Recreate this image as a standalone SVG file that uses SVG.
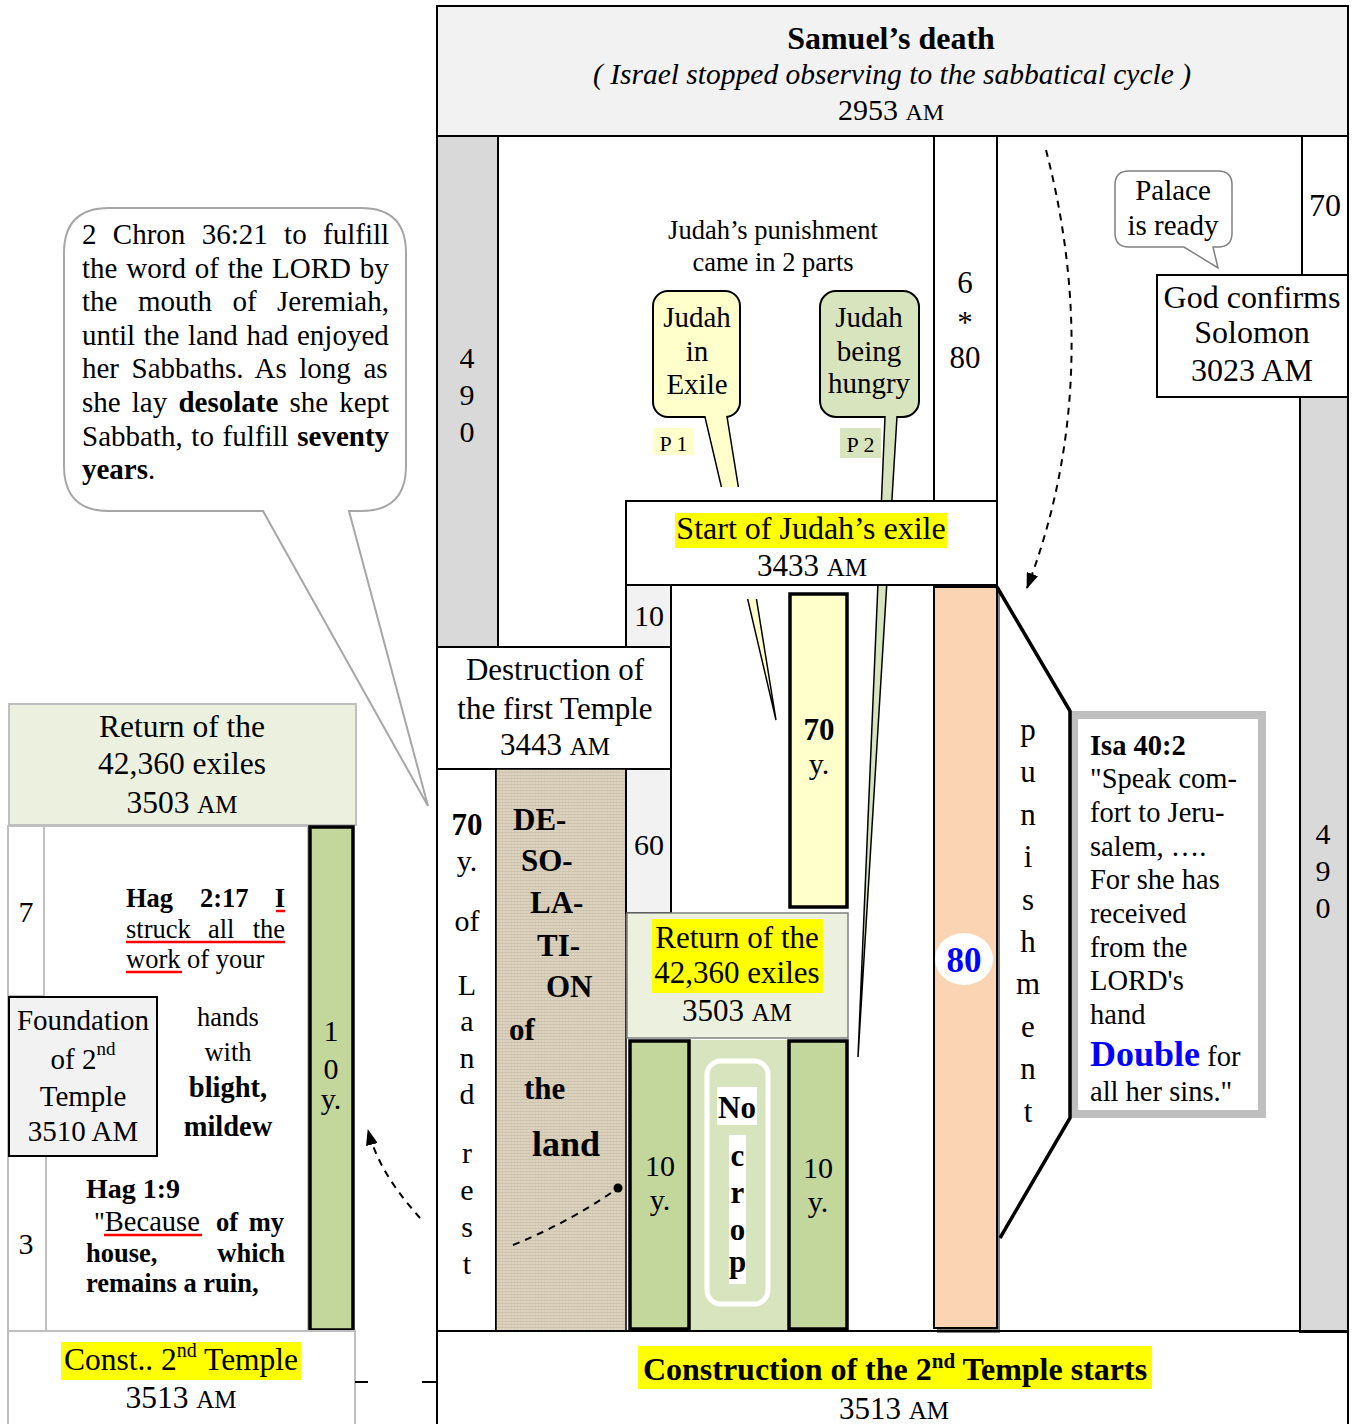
<svg xmlns="http://www.w3.org/2000/svg" width="1353" height="1424" viewBox="0 0 1353 1424">
<defs>
<style>
text{font-family:"Liberation Serif","Times New Roman",serif;fill:#000}
.c{text-anchor:middle}
.e{text-anchor:end}
.b{font-weight:bold}
.k{stroke:#000;stroke-width:2}
.gk{stroke:#bfbfbf;stroke-width:2}
.thick{stroke:#000;stroke-width:3.5}
.dash{fill:none;stroke:#000;stroke-width:2;stroke-dasharray:7,6}
.red{stroke:#ff0000;stroke-width:2.5}
.f30{font-size:30px}
.f31{font-size:31px}
.f29{font-size:29px}
.f26{font-size:26.5px}
.f28{font-size:28.5px}
</style>
<pattern id="burlap" width="6" height="6" patternUnits="userSpaceOnUse">
<rect width="6" height="6" fill="#dcd3c1"/>
<path d="M0,1.5H6M0,4.5H6" stroke="#cdc2ac" stroke-width="1"/>
<path d="M1.5,0V6M4.5,0V6" stroke="#d2c8b3" stroke-width="0.8"/>
</pattern>
<marker id="ah" viewBox="0 0 16 12" refX="15" refY="6" markerWidth="16" markerHeight="12" markerUnits="userSpaceOnUse" orient="auto">
<path d="M0,0 L16,6 L0,12 z" fill="#000"/>
</marker>
<clipPath id="tailclip">
<rect x="0" y="416" width="1353" height="71"/>
<rect x="0" y="599" width="1353" height="825"/>
</clipPath>
<clipPath id="tailclip2">
<rect x="0" y="416" width="1353" height="1008"/>
</clipPath>
</defs>

<rect width="1353" height="1424" fill="#fff"/>

<g id="frame">
<rect x="437" y="6" width="911" height="1430" fill="#fff" class="k"/>
</g>

<g id="header">
<rect x="437" y="6" width="911" height="130" fill="#f2f2f2" class="k"/>
<text x="891" y="49" class="c b" font-size="32">Samuel’s death</text>
<text x="892" y="84" class="c" font-size="29.5" font-style="italic">( Israel stopped observing to the sabbatical cycle )</text>
<text x="891" y="120" class="c f30">2953 <tspan font-size="24">AM</tspan></text>
</g>

<g id="col-490-left">
<rect x="437" y="136" width="61" height="511" fill="#d9d9d9" class="k"/>
<text x="467" y="368" class="c f30">4</text>
<text x="467" y="405" class="c f30">9</text>
<text x="467" y="442" class="c f30">0</text>
</g>

<g id="punishment-note">
<text x="773" y="239" class="c" font-size="26.5">Judah’s punishment</text>
<text x="773" y="271" class="c" font-size="26.5">came in 2 parts</text>
</g>

<g id="col-6x80">
<rect x="934" y="136" width="63" height="365" fill="#fff" class="k"/>
<text x="965" y="293" class="c f31">6</text>
<text x="965" y="333" class="c f31">*</text>
<text x="965" y="368" class="c f31">80</text>
</g>

<g id="col-70-top">
<rect x="1302" y="136" width="46" height="139" fill="#fff" class="k"/>
<text x="1325" y="216" class="c" font-size="32">70</text>
</g>

<g id="callout-exile">
<rect x="653" y="291" width="87" height="126" rx="15" fill="#ffffcc" class="k"/>
<polygon points="701,400 724.3,400 776,720" fill="#ffffcc" stroke="#000" stroke-width="1.5" clip-path="url(#tailclip)"/>
<text x="697" y="327" class="c f29">Judah</text>
<text x="697" y="361" class="c f29">in</text>
<text x="697" y="394" class="c f29">Exile</text>
<rect x="653" y="428" width="41" height="27" fill="#ffffcc"/>
<text x="673.5" y="451" class="c" font-size="22">P 1</text>
</g>

<g id="callout-hungry">
<rect x="820" y="291" width="99" height="126" rx="16" fill="#d7e4bd" class="k"/>
<polygon points="885.7,400 898,400 858,1057" fill="#d7e4bd" stroke="#000" stroke-width="1.5" clip-path="url(#tailclip2)"/>
<text x="869" y="327" class="c f29">Judah</text>
<text x="869" y="361" class="c f29">being</text>
<text x="869" y="393" class="c f29">hungry</text>
<rect x="840" y="428" width="41" height="30" fill="#d7e4bd"/>
<text x="860.5" y="452" class="c" font-size="22">P 2</text>
</g>

<g id="start-exile">
<rect x="626" y="501" width="371" height="84" fill="#fff" class="k"/>
<rect x="675" y="513" width="272" height="35" fill="#ffff00"/>
<text x="811" y="539" class="c" font-size="32">Start of Judah’s exile</text>
<text x="812" y="576" class="c f31">3433 <tspan font-size="25">AM</tspan></text>
</g>

<g id="palace">
<path d="M1129,171 H1218 Q1232,171 1232,185 V233 Q1232,247 1218,247 H1213 L1218,268 L1184,247 H1129 Q1115,247 1115,233 V185 Q1115,171 1129,171 Z" fill="#fff" stroke="#808080" stroke-width="1.5"/>
<text x="1173" y="200" class="c f29">Palace</text>
<text x="1173" y="235" class="c f29">is ready</text>
</g>

<g id="solomon">
<rect x="1157" y="275" width="191" height="122" fill="#fff" class="k"/>
<text x="1252" y="308" class="c" font-size="32">God confirms</text>
<text x="1252" y="343" class="c" font-size="32">Solomon</text>
<text x="1252" y="381" class="c" font-size="32">3023 AM</text>
</g>

<g id="col-490-right">
<rect x="1300" y="397" width="48" height="935" fill="#d9d9d9" class="k"/>
<text x="1323" y="844" class="c f30">4</text>
<text x="1323" y="881" class="c f30">9</text>
<text x="1323" y="918" class="c f30">0</text>
</g>

<g id="cell-10">
<rect x="626" y="585" width="45" height="62" fill="#f2f2f2" class="k"/>
<text x="649" y="626" class="c f30">10</text>
</g>

<g id="destruction">
<rect x="437" y="647" width="234" height="122" fill="#fff" class="k"/>
<text x="555" y="680" class="c f31">Destruction of</text>
<text x="555" y="719" class="c f31">the first Temple</text>
<text x="555" y="755" class="c f31">3443 <tspan font-size="25">AM</tspan></text>
</g>

<g id="land-rest">
<rect x="437" y="769" width="59" height="562" fill="#fff" class="k"/>
<text x="467" y="835" class="c b f31">70</text>
<text x="467" y="871" class="c f30">y.</text>
<text x="467" y="931" class="c f30">of</text>
<text x="467" y="995" class="c f30">L</text>
<text x="467" y="1031" class="c f30">a</text>
<text x="467" y="1068" class="c f30">n</text>
<text x="467" y="1104" class="c f30">d</text>
<text x="467" y="1163" class="c f30">r</text>
<text x="467" y="1200" class="c f30">e</text>
<text x="467" y="1237" class="c f30">s</text>
<text x="467" y="1274" class="c f30">t</text>
</g>

<g id="desolation">
<rect x="496" y="769" width="130" height="562" fill="url(#burlap)" stroke="#000" stroke-width="1.5"/>
<text x="513" y="830" class="b f31">DE-</text>
<text x="521" y="871" class="b f31">SO-</text>
<text x="530" y="913" class="b f31">LA-</text>
<text x="537" y="956" class="b f31">TI-</text>
<text x="546" y="997" class="b f31">ON</text>
<text x="509" y="1040" class="b f31">of</text>
<text x="524" y="1099" class="b f31">the</text>
<text x="532" y="1156" class="b" font-size="36">land</text>
</g>

<g id="cell-60">
<rect x="626" y="769" width="45" height="144" fill="#f2f2f2" class="k"/>
<text x="649" y="855" class="c f30">60</text>
</g>

<g id="col-70-yellow">
<rect x="790" y="594" width="57" height="313" fill="#ffffcc" class="thick"/>
<text x="819" y="740" class="c b f31">70</text>
<text x="819" y="774" class="c f30">y.</text>
</g>

<g id="return-mid">
<rect x="627" y="913" width="221" height="125" fill="#ebf1de" stroke="#808080" stroke-width="1.5"/>
<rect x="652" y="919" width="171" height="74" fill="#ffff00"/>
<text x="737" y="948" class="c f31">Return of the</text>
<text x="737" y="983" class="c f31">42,360 exiles</text>
<text x="737" y="1021" class="c f31">3503 <tspan font-size="25">AM</tspan></text>
</g>

<g id="no-crop">
<rect x="690" y="1040" width="98" height="291" fill="#d7e4bd"/>
<rect x="707" y="1061" width="61" height="243" rx="14" fill="none" stroke="#fff" stroke-width="5"/>
<rect x="717" y="1087" width="40" height="38" fill="#fff"/>
<text x="737" y="1118" class="c b f31">No</text>
<rect x="729" y="1135" width="17" height="149" fill="#fff"/>
<text x="737.5" y="1166" class="c b f31">c</text>
<text x="737.5" y="1203" class="c b f31">r</text>
<text x="737.5" y="1240" class="c b f31">o</text>
<text x="737.5" y="1272" class="c b f31">p</text>
</g>

<g id="col-10-left">
<rect x="630" y="1041" width="59" height="288" fill="#c3d69b" class="thick"/>
<text x="660" y="1176" class="c f30">10</text>
<text x="660" y="1210" class="c f30">y.</text>
</g>

<g id="col-10-right">
<rect x="789" y="1041" width="58" height="288" fill="#c3d69b" class="thick"/>
<text x="818" y="1178" class="c f30">10</text>
<text x="818" y="1212" class="c f30">y.</text>
</g>

<g id="col-80">
<rect x="937" y="590" width="63" height="743" fill="#7f7f7f"/>
<rect x="934" y="587" width="63" height="741" fill="#fbd4b4" class="k"/>
<ellipse cx="964" cy="959" rx="29" ry="26" fill="#fff"/>
<text x="964" y="972" class="c b" font-size="35" style="fill:#0000ff">80</text>
</g>

<g id="isa">
<rect x="1074" y="715" width="188" height="399" fill="#fff" stroke="#bfbfbf" stroke-width="8"/>
<text x="1090" y="755" class="b f28">Isa 40:2</text>
<text x="1090" y="788" class="f28">"Speak com-</text>
<text x="1090" y="822" class="f28">fort to Jeru-</text>
<text x="1090" y="856" class="f28">salem, ….</text>
<text x="1090" y="889" class="f28">For she has</text>
<text x="1090" y="923" class="f28">received</text>
<text x="1090" y="957" class="f28">from the</text>
<text x="1090" y="990" class="f28">LORD's</text>
<text x="1090" y="1024" class="f28">hand</text>
<text x="1090" y="1066" class="f28"><tspan class="b" font-size="36" style="fill:#0000ff">Double</tspan> for</text>
<text x="1090" y="1101" class="f28">all her sins."</text>
</g>

<g id="punishment">
<text x="1028" y="740" class="c f31">p</text>
<text x="1028" y="782" class="c f31">u</text>
<text x="1028" y="825" class="c f31">n</text>
<text x="1028" y="867" class="c f31">i</text>
<text x="1028" y="910" class="c f31">s</text>
<text x="1028" y="952" class="c f31">h</text>
<text x="1028" y="994" class="c f31">m</text>
<text x="1028" y="1037" class="c f31">e</text>
<text x="1028" y="1079" class="c f31">n</text>
<text x="1028" y="1122" class="c f31">t</text>
</g>

<g id="construction">
<line x1="437" y1="1331" x2="1348" y2="1331" class="k"/>
<rect x="638" y="1346" width="514" height="43" fill="#ffff00"/>
<text x="895" y="1380" class="c b" font-size="32">Construction of the 2<tspan font-size="21" dy="-12">nd</tspan><tspan dy="12"> Temple starts</tspan></text>
<text x="894" y="1419" class="c f31">3513 <tspan font-size="25">AM</tspan></text>
</g>

<g id="chron-callout">
<path d="M109,208 H361 Q406,208 406,253 V466 Q406,511 361,511 H349 L428,806 L263,511 H109 Q64,511 64,466 V253 Q64,208 109,208 Z" fill="#fff" stroke="#a6a6a6" stroke-width="2"/>
<text x="82" y="244" class="f29" word-spacing="9.1">2 Chron 36:21 to fulfill</text>
<text x="82" y="278" class="f29" word-spacing="1.6">the word of the LORD by</text>
<text x="82" y="311" class="f29" word-spacing="13.2">the mouth of Jeremiah,</text>
<text x="82" y="345" class="f29" word-spacing="1.4">until the land had enjoyed</text>
<text x="82" y="378" class="f29" word-spacing="5.3">her Sabbaths. As long as</text>
<text x="82" y="412" class="f29" word-spacing="3.9">she lay <tspan class="b">desolate</tspan> she kept</text>
<text x="82" y="446" class="f29" word-spacing="1.4">Sabbath, to fulfill <tspan class="b">seventy</tspan></text>
<text x="82" y="479" class="f29"><tspan class="b">years</tspan>.</text>
</g>

<g id="return-left">
<rect x="9" y="704" width="347" height="121" fill="#ebf1de" class="gk"/>
<text x="182" y="737" class="c" font-size="31.5">Return of the</text>
<text x="182" y="774" class="c" font-size="31.5">42,360 exiles</text>
<text x="182" y="813" class="c" font-size="31.5">3503 <tspan font-size="25">AM</tspan></text>
</g>

<g id="haggai-panel">
<rect x="8" y="826" width="300" height="505" fill="#fff" class="gk"/>
<rect x="8" y="826" width="36" height="170" fill="#fff" class="gk"/>
<text x="26" y="922" class="c f30">7</text>
<rect x="8" y="1156" width="38" height="175" fill="#fff" class="gk"/>
<text x="26" y="1254" class="c f30">3</text>
<text x="126" y="907" class="b f26">Hag</text>
<text x="200" y="907" class="b f26">2:17</text>
<text x="285" y="907" class="e b f26">I</text>
<text x="126" y="938" class="f26">struck</text>
<text x="208" y="938" class="f26">all</text>
<text x="285" y="938" class="e f26">the</text>
<text x="126" y="968" class="f26">work of your</text>
<line x1="276" y1="911" x2="285" y2="911" class="red"/>
<line x1="126" y1="942" x2="285" y2="942" class="red"/>
<line x1="126" y1="972" x2="182" y2="972" class="red"/>
<text x="228" y="1026" class="c f26">hands</text>
<text x="228" y="1061" class="c f26">with</text>
<text x="228" y="1097" class="c b f28">blight,</text>
<text x="228" y="1136" class="c b f28">mildew</text>
<text x="86" y="1198" class="b" font-size="28">Hag 1:9</text>
<text x="94" y="1231" class="f26">"<tspan font-size="28.5">Because</tspan></text>
<text x="216" y="1231" class="b f26">of</text>
<text x="284" y="1231" class="e b f26">my</text>
<line x1="104" y1="1235" x2="202" y2="1235" class="red"/>
<text x="86" y="1262" class="b f26">house,</text>
<text x="285" y="1262" class="e b f26">which</text>
<text x="86" y="1292" class="b f26">remains a ruin,</text>
</g>

<g id="foundation">
<rect x="9" y="997" width="148" height="159" fill="#f2f2f2" class="k"/>
<text x="83" y="1030" class="c f29">Foundation</text>
<text x="83" y="1069" class="c f29">of 2<tspan font-size="19" dy="-14">nd</tspan></text>
<text x="83" y="1106" class="c f29">Temple</text>
<text x="83" y="1141" class="c f29">3510 AM</text>
</g>

<g id="col-10y-left">
<rect x="310" y="827" width="43" height="503" fill="#c3d69b" class="thick"/>
<text x="331" y="1041" class="c f30">1</text>
<text x="331" y="1079" class="c f30">0</text>
<text x="331" y="1109" class="c f30">y.</text>
</g>

<g id="const-left">
<rect x="8" y="1331" width="347" height="95" fill="#fff" class="gk"/>
<rect x="61" y="1342" width="240" height="38" fill="#ffff00"/>
<text x="181" y="1370" class="c" font-size="31.5">Const.. 2<tspan font-size="20" dy="-13">nd</tspan><tspan dy="13"> Temple</tspan></text>
<text x="181" y="1408" class="c" font-size="31.5">3513 <tspan font-size="25">AM</tspan></text>
</g>

<g id="connectors">
<polyline points="997,587 1070,711 1070,1118 1000,1238" fill="none" stroke="#000" stroke-width="3.5"/>
<path d="M1046,150 C1085,300 1080,450 1027,588" class="dash" marker-end="url(#ah)"/>
<path d="M420,1218 C400,1195 378,1168 368,1130" class="dash" marker-end="url(#ah)"/>
<path d="M513,1245 Q570,1222 618,1188" class="dash"/>
<circle cx="618" cy="1188" r="4.5" fill="#000"/>
<line x1="355" y1="1382" x2="368" y2="1382" class="k"/>
<line x1="422" y1="1382" x2="437" y2="1382" class="k"/>
</g>
</svg>
